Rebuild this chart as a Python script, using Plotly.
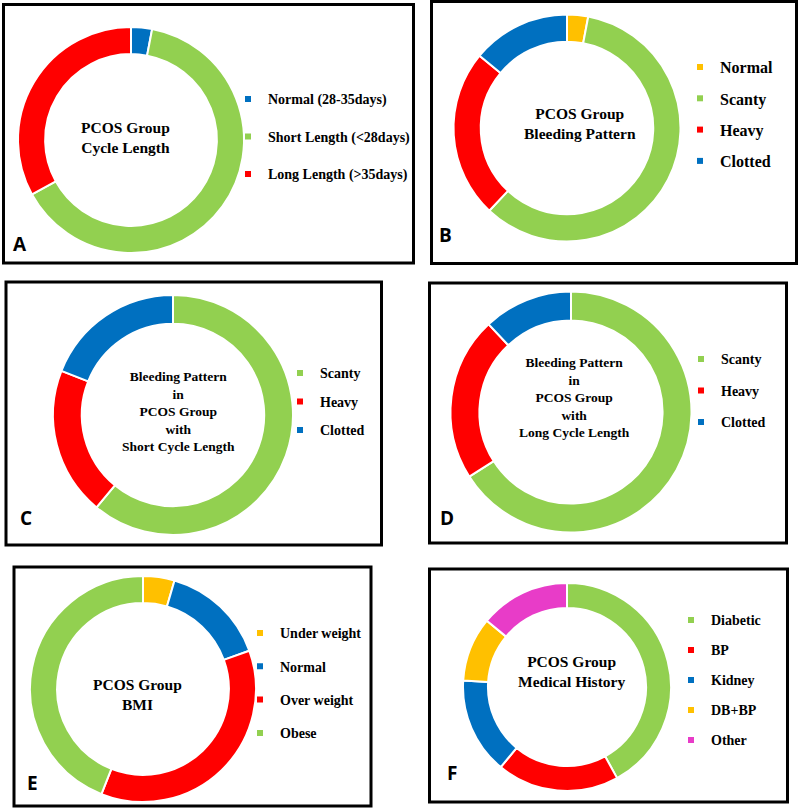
import plotly.graph_objects as go

W, H = 798, 810

GREEN = "#92D050"
RED = "#FF0000"
BLUE = "#0070C0"
ORANGE = "#FFC000"
PINK = "#E83CC8"

# ---------------- data ----------------
a_labels = ["Normal (28-35days)", "Short Length (<28days)", "Long Length (>35days)"]
a_values = [3, 64, 33]
a_colors = [BLUE, GREEN, RED]

b_labels = ["Normal", "Scanty", "Heavy", "Clotted"]
b_values = [3, 59, 24, 14]
b_colors = [ORANGE, GREEN, RED, BLUE]

c_labels = ["Scanty", "Heavy", "Clotted"]
c_values = [61, 20, 19]
c_colors = [GREEN, RED, BLUE]

d_labels = ["Scanty", "Heavy", "Clotted"]
d_values = [66, 22, 12]
d_colors = [GREEN, RED, BLUE]

e_labels = ["Under weight", "Normal", "Over weight", "Obese"]
e_values = [4.5, 15, 36.5, 44]
e_colors = [ORANGE, BLUE, RED, GREEN]

f_labels = ["Diabetic", "BP", "Kidney", "DB+BP", "Other"]
f_values = [42, 19, 15, 10, 14]
f_colors = [GREEN, RED, BLUE, ORANGE, PINK]

titles = [
    "PCOS Group<br>Cycle Length",
    "PCOS Group<br>Bleeding Pattern",
    "Bleeding Pattern<br>in<br>PCOS Group<br>with<br>Short Cycle Length",
    "Bleeding Pattern<br>in<br>PCOS Group<br>with<br>Long Cycle Length",
    "PCOS Group<br>BMI",
    "PCOS Group<br>Medical History",
]
letters = ["A", "B", "C", "D", "E", "F"]

# ---------------- layout (pixel geometry) ----------------
panels = [
    dict(labels=a_labels, values=a_values, colors=a_colors,
         box=(3.5, 4.5, 413.5, 263), cx=131, cy=140, r=113,
         tx=125, ty=137, tsize=15.5,
         lx=265, ly=99, lgap=37.5, lsize=14, letter=(11, 244)),
    dict(labels=b_labels, values=b_values, colors=b_colors,
         box=(431.5, 1.5, 796.5, 263.5), cx=567, cy=128, r=113.5,
         tx=580, ty=123, tsize=15.5,
         lx=717, ly=67, lgap=31.3, lsize=16, letter=(437, 235)),
    dict(labels=c_labels, values=c_values, colors=c_colors,
         box=(6, 282, 381.5, 545), cx=173, cy=415, r=120,
         tx=178, ty=411, tsize=13.5,
         lx=317, ly=373, lgap=28.5, lsize=14, letter=(18, 518)),
    dict(labels=d_labels, values=d_values, colors=d_colors,
         box=(429.5, 283, 786.5, 543), cx=571, cy=412, r=120.5,
         tx=574.5, ty=397, tsize=13.5,
         lx=718, ly=359, lgap=31.5, lsize=14, letter=(438, 518)),
    dict(labels=e_labels, values=e_values, colors=e_colors,
         box=(14, 567, 371, 806), cx=143, cy=689, r=113,
         tx=137.5, ty=694, tsize=15.5,
         lx=277, ly=633, lgap=33.3, lsize=14, letter=(25, 783)),
    dict(labels=f_labels, values=f_values, colors=f_colors,
         box=(429.5, 569, 787.5, 802), cx=567, cy=687, r=104,
         tx=571, ty=671, tsize=15.5,
         lx=708, ly=620, lgap=30, lsize=14, letter=(445, 773)),
]


def px(x):
    return x / W


def py(y):
    return 1 - y / H


fig = go.Figure()
shapes = []
annotations = []
layout_legends = {}

for i, p in enumerate(panels):
    leg_key = "legend" if i == 0 else f"legend{i + 1}"
    fig.add_trace(go.Pie(
        labels=p["labels"], values=p["values"], hole=0.76, sort=False,
        direction="clockwise", rotation=0, textinfo="none", showlegend=False,
        marker=dict(colors=p["colors"], line=dict(color="white", width=2)),
        domain=dict(x=[px(p["cx"] - p["r"]), px(p["cx"] + p["r"])],
                    y=[py(p["cy"] + p["r"]), py(p["cy"] - p["r"])]),
    ))
    # legend entries
    for lab, col in zip(p["labels"], p["colors"]):
        fig.add_trace(go.Scatter(
            x=[None], y=[None], mode="markers", name=lab,
            marker=dict(symbol="square", size=6, color=col),
            legend=leg_key, legendgroup=f"{leg_key}-{lab}", showlegend=True,
        ))
    h = max(1.3 * p["lsize"], 16) + 3
    layout_legends[leg_key] = dict(
        x=px(p["lx"] - 37), y=py(p["ly"] - h / 2 - 5),
        xanchor="left", yanchor="top",
        bgcolor="rgba(0,0,0,0)", borderwidth=0,
        itemwidth=30, traceorder="grouped",
        tracegroupgap=p["lgap"] - h,
        font=dict(family="Liberation Serif", size=p["lsize"], color="#000000",
                  weight="bold"),
    )
    x0, y0, x1, y1 = p["box"]
    shapes.append(dict(type="rect", xref="paper", yref="paper",
                       x0=px(x0), x1=px(x1), y0=py(y1), y1=py(y0),
                       line=dict(color="#000000", width=3),
                       fillcolor="rgba(0,0,0,0)"))
    annotations.append(dict(
        text=titles[i], x=px(p["tx"]), y=py(p["ty"]), xref="paper", yref="paper",
        xanchor="center", yanchor="middle", showarrow=False, align="center",
        font=dict(family="Liberation Serif", size=p["tsize"], color="#000000",
                  weight="bold"),
    ))
    lxp, lyp = p["letter"]
    annotations.append(dict(
        text=letters[i], x=px(lxp), y=py(lyp), xref="paper", yref="paper",
        xanchor="left", yanchor="middle", showarrow=False,
        font=dict(family="Open Sans", size=19, color="#000000", weight="bold"),
    ))

fig.update_layout(
    width=W, height=H,
    margin=dict(l=0, r=0, t=0, b=0),
    paper_bgcolor="white", plot_bgcolor="white",
    xaxis=dict(visible=False), yaxis=dict(visible=False),
    shapes=shapes, annotations=annotations,
    showlegend=True,
    **layout_legends,
)

fig.write_html(
    "out.html",
    config={"displayModeBar": False},
    post_script="document.body.style.margin='0px';document.body.style.padding='0px';",
)
